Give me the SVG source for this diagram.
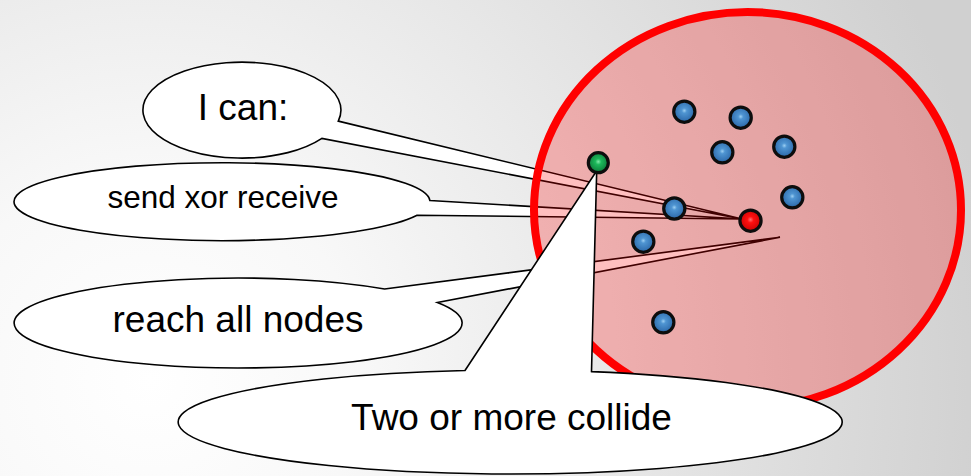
<svg xmlns="http://www.w3.org/2000/svg" width="971" height="476" viewBox="0 0 971 476">
<defs>
<radialGradient id="bg" gradientUnits="userSpaceOnUse" cx="150" cy="380" r="850">
<stop offset="0" stop-color="#ffffff"/>
<stop offset="0.25" stop-color="#f8f8f8"/>
<stop offset="1" stop-color="#d0d0d0"/>
</radialGradient>
<radialGradient id="gBlue" cx="0.5" cy="0.45" r="0.6">
<stop offset="0" stop-color="#9ccff2"/>
<stop offset="0.2" stop-color="#4f95d2"/>
<stop offset="0.7" stop-color="#3574b4"/>
<stop offset="1" stop-color="#1c5288"/>
</radialGradient>
<radialGradient id="gRed" cx="0.5" cy="0.45" r="0.6">
<stop offset="0" stop-color="#ff7070"/>
<stop offset="0.25" stop-color="#ff1010"/>
<stop offset="1" stop-color="#c00000"/>
</radialGradient>
<radialGradient id="gGreen" cx="0.5" cy="0.45" r="0.6">
<stop offset="0" stop-color="#80e8a8"/>
<stop offset="0.25" stop-color="#1cb85a"/>
<stop offset="1" stop-color="#0a7034"/>
</radialGradient>
<style>
.callout{fill:#ffffff;stroke:#000000;stroke-width:1.6;stroke-linejoin:miter}
.lbl{font-family:"Liberation Sans",Arial,sans-serif;fill:#000000;text-anchor:middle}
.dot{stroke:#0d0d0d;stroke-width:3.2}
</style>
</defs>
<rect x="0" y="0" width="971" height="476" fill="url(#bg)"/>

<g id="callout-ican">
<path class="callout" d="M338.3 121.1 L742 219 L321.9 138.4 A99 48 0 1 1 338.3 121.1 Z"/>
<text class="lbl" x="243" y="120" font-size="37">I can:</text>
</g>
<g id="callout-send">
<path class="callout" d="M429.9 200.5 L742 219 L417.1 215.2 A208 39 0 1 1 429.9 200.5 Z"/>
<text class="lbl" x="223" y="208" font-size="31.5">send xor receive</text>
</g>
<g id="callout-reach">
<path class="callout" d="M384.6 289 L780 237.3 L437.4 302.5 A224 45 0 1 1 384.6 289 Z"/>
<text class="lbl" x="238" y="332" font-size="37">reach all nodes</text>
</g>

<g id="range">
<ellipse cx="747.5" cy="210" rx="213.5" ry="198" fill="#ff0000" fill-opacity="0.25" stroke="#ff0000" stroke-width="8"/>
</g>

<g id="callout-collide">
<path class="callout" d="M465 370.5 L596.7 170.7 L591.5 371.6 A332 52 0 1 1 465 370.5 Z"/>
<text class="lbl" x="511.5" y="430" font-size="37">Two or more collide</text>
</g>

<g id="connectors"></g>

<g id="node-b1"><circle class="dot" cx="684.3" cy="111.7" r="10.6" fill="url(#gBlue)"/></g>
<g id="node-b2"><circle class="dot" cx="740.7" cy="117.7" r="10.6" fill="url(#gBlue)"/></g>
<g id="node-b3"><circle class="dot" cx="722.3" cy="152.3" r="10.6" fill="url(#gBlue)"/></g>
<g id="node-b4"><circle class="dot" cx="784.3" cy="146.7" r="10.6" fill="url(#gBlue)"/></g>
<g id="node-b5"><circle class="dot" cx="792.3" cy="197.3" r="10.6" fill="url(#gBlue)"/></g>
<g id="node-b6"><circle class="dot" cx="674.3" cy="208.5" r="10.6" fill="url(#gBlue)"/></g>
<g id="node-b7"><circle class="dot" cx="643.3" cy="241.7" r="10.6" fill="url(#gBlue)"/></g>
<g id="node-b8"><circle class="dot" cx="663.3" cy="322.3" r="10.6" fill="url(#gBlue)"/></g>
<g id="node-red"><circle class="dot" cx="750.5" cy="220.7" r="10.6" fill="url(#gRed)"/></g>
<g id="node-green"><circle class="dot" cx="598.3" cy="162.7" r="10" fill="url(#gGreen)"/></g>
</svg>
